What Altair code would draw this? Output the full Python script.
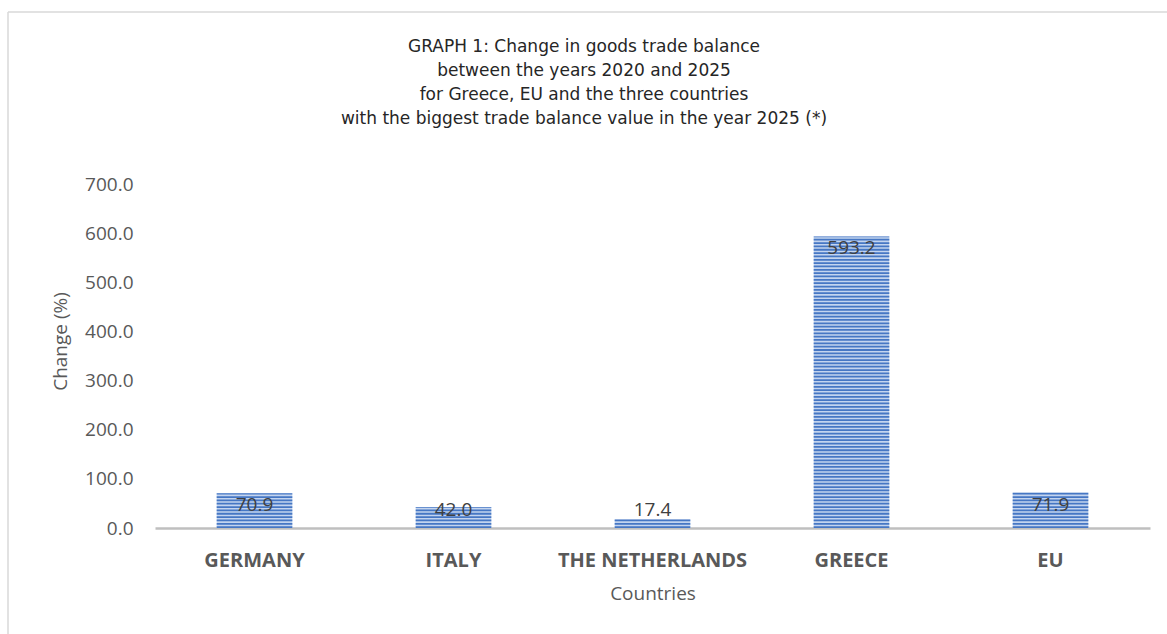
import altair as alt
import pandas as pd

countries = ["GERMANY", "ITALY", "THE NETHERLANDS", "GREECE", "EU"]
changes = [70.9, 42.0, 17.4, 593.2, 71.9]
y_ticks = [0, 100, 200, 300, 400, 500, 600, 700]
title_lines = [
    "GRAPH 1: Change in goods trade balance",
    "between the years 2020 and 2025",
    "for Greece, EU and the three countries",
    "with the biggest trade balance value in the year 2025 (*)",
]

df = pd.DataFrame({"country": countries, "change": changes})
one = pd.DataFrame({"k": [0]})

FONT = "Open Sans"
W, H = 995, 344
PAD_L, PAD_T = 155, 184

x_enc = alt.X(
    "country:N",
    sort=countries,
    scale=alt.Scale(paddingInner=0.62, paddingOuter=0.31),
    axis=alt.Axis(
        title="Countries",
        labelAngle=0,
        labelFontWeight="bold",
        labelFontSize=20,
        labelColor="#595959",
        labelFont=FONT,
        labelPadding=22,
        labelLimit=400,
        ticks=False,
        domain=True,
        domainColor="#bfbfbf",
        domainWidth=2.5,
        titleFont=FONT,
        titleFontSize=19,
        titleFontWeight="normal",
        titleColor="#595959",
        titlePadding=14,
    ),
)
y_scale = alt.Scale(domain=[0, 700], nice=False)
y_enc = alt.Y(
    "change:Q",
    scale=y_scale,
    axis=alt.Axis(
        title="Change (%)",
        values=y_ticks,
        format=".1f",
        domain=False,
        ticks=False,
        grid=False,
        labelFontSize=19,
        labelColor="#595959",
        labelFont=FONT,
        labelPadding=22,
        titleFont=FONT,
        titleFontSize=19,
        titleFontWeight="normal",
        titleColor="#595959",
        titlePadding=14,
        titleY=157,
    ),
)

base = alt.Chart(df)

bars = base.mark_bar(color="#c3d4ef").encode(x=x_enc, y=y_enc)

stripes = (
    base.transform_calculate(s="sequence(0, datum.change, 6.8)")
    .transform_flatten(["s"])
    .transform_calculate(s2="min(datum.s + 3.6, datum.change)")
    .mark_bar(color="#4677c4")
    .encode(
        x=alt.X("country:N", sort=countries),
        y=alt.Y("s:Q", scale=y_scale),
        y2="s2:Q",
    )
)

labels = (
    base.transform_calculate(pos="max(datum.change - 24.4, 36.6)")
    .mark_text(baseline="middle", fontSize=19, font=FONT, color="#404040")
    .encode(
        x=alt.X("country:N", sort=countries),
        y=alt.Y("pos:Q", scale=y_scale),
        text=alt.Text("change:Q", format=".1f"),
    )
)

title_layers = [
    alt.Chart(one)
    .mark_text(
        text=line,
        font="DejaVu Sans",
        fontSize=17,
        color="#262626",
        align="center",
        baseline="middle",
    )
    .encode(x=alt.value(584 - PAD_L), y=alt.value(47 + 24 * i - PAD_T))
    for i, line in enumerate(title_lines)
]

frame_left = alt.Chart(one).mark_rule(color="#d9d9d9", strokeWidth=1.5).encode(
    x=alt.value(8 - PAD_L), y=alt.value(12 - PAD_T), y2=alt.value(634 - PAD_T)
)
frame_top = alt.Chart(one).mark_rule(color="#d9d9d9", strokeWidth=1.5).encode(
    x=alt.value(8 - PAD_L), x2=alt.value(1167 - PAD_L), y=alt.value(12 - PAD_T)
)

chart = (
    alt.layer(frame_left, frame_top, bars, stripes, labels, *title_layers)
    .properties(
        width=W,
        height=H,
        autosize=alt.AutoSizeParams(type="none"),
        padding={"left": PAD_L, "top": PAD_T, "right": 1167 - PAD_L - W, "bottom": 634 - PAD_T - H},
        view=alt.ViewBackground(strokeWidth=0, strokeOpacity=0),
    )
    .configure_view(strokeWidth=0, strokeOpacity=0)
    .configure(background="white")
)

chart.save("out.html", embed_options={"renderer": "svg", "actions": False})
